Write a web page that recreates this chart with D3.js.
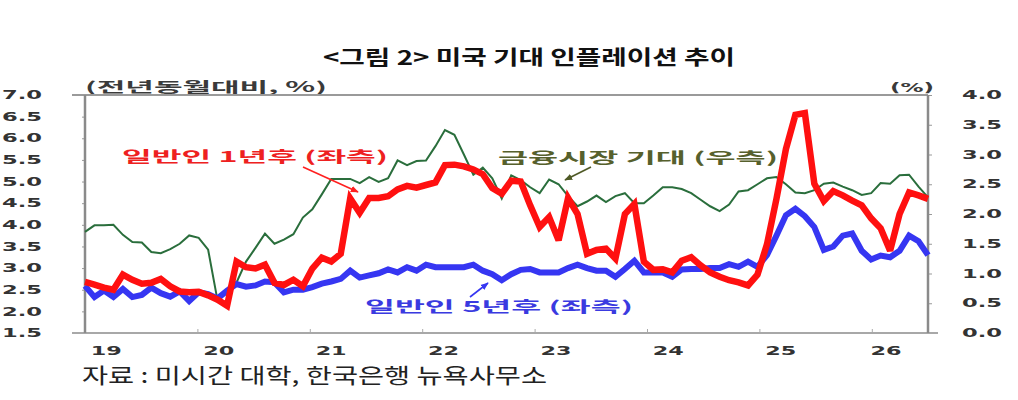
<!DOCTYPE html>
<html><head><meta charset="utf-8">
<script src="https://cdn.jsdelivr.net/npm/d3@7/dist/d3.min.js"></script>
<style>
html,body{margin:0;padding:0;background:#fff;}
svg{display:block;}
</style></head>
<body>
<svg id="chart" width="1018" height="400"></svg>
<script>
// ---- data (monthly, 2019.01 ~ 2026.06) ----
const years = [2019, 2020, 2021, 2022, 2023, 2024, 2025, 2026];
const yearLabels = ["19", "20", "21", "22", "23", "24", "25", "26"];
const leftTicks = [1.5, 2.0, 2.5, 3.0, 3.5, 4.0, 4.5, 5.0, 5.5, 6.0, 6.5, 7.0];
const rightTicks = [0.0, 0.5, 1.0, 1.5, 2.0, 2.5, 3.0, 3.5, 4.0];

// 일반인 1년후 (좌측)
const oneYear = [2.68,2.62,2.55,2.50,2.85,2.73,2.64,2.66,2.75,2.58,2.46,2.44,
 2.45,2.37,2.27,2.13,3.15,3.02,2.99,3.08,2.66,2.61,2.73,2.58,
 2.99,3.24,3.15,3.33,4.61,4.28,4.62,4.62,4.66,4.82,4.90,4.86,
 4.92,4.98,5.38,5.39,5.35,5.28,5.17,4.85,4.72,5.02,5.00,4.45,
 3.95,4.18,3.64,4.62,4.25,3.33,3.42,3.45,3.22,4.25,4.48,3.15,
 2.96,2.97,2.90,3.17,3.25,3.06,2.90,2.80,2.72,2.67,2.60,2.85,
 3.55,4.60,5.75,6.54,6.58,4.95,4.55,4.78,4.68,4.56,4.45,4.15,
 3.92,3.40,4.25,4.75,4.68,4.60];

// 일반인 5년후 (좌측)
const fiveYear = [2.59,2.33,2.48,2.33,2.52,2.33,2.38,2.55,2.42,2.34,2.46,2.24,
 2.44,2.40,2.30,2.48,2.63,2.57,2.60,2.69,2.67,2.44,2.50,2.50,
 2.56,2.64,2.69,2.75,2.94,2.78,2.83,2.88,2.97,2.90,3.02,2.94,
 3.08,3.02,3.02,3.02,3.02,3.08,2.94,2.86,2.72,2.86,2.96,2.98,
 2.90,2.90,2.90,3.00,3.08,3.00,2.94,2.94,2.80,2.98,3.17,2.90,
 2.90,2.90,2.80,2.97,2.98,2.98,3.00,3.00,3.09,3.03,3.15,3.03,
 3.30,3.75,4.22,4.37,4.20,3.95,3.42,3.50,3.75,3.80,3.40,3.20,
 3.29,3.25,3.40,3.75,3.62,3.30];

// 금융시장 기대 (우측)
const market = [1.70,1.81,1.81,1.82,1.65,1.53,1.52,1.36,1.34,1.41,1.50,1.64,
 1.60,1.40,0.54,0.68,0.85,1.20,1.43,1.67,1.50,1.57,1.66,1.94,
 2.08,2.33,2.59,2.59,2.59,2.52,2.62,2.54,2.60,2.90,2.82,2.89,
 2.90,3.14,3.41,3.33,3.00,2.66,2.78,2.60,2.26,2.65,2.57,2.45,
 2.35,2.58,2.50,2.30,2.13,2.21,2.31,2.20,2.30,2.35,2.18,2.18,
 2.31,2.45,2.45,2.42,2.35,2.24,2.13,2.05,2.16,2.38,2.40,2.50,
 2.60,2.62,2.50,2.36,2.35,2.40,2.51,2.53,2.46,2.40,2.32,2.35,
 2.52,2.51,2.65,2.66,2.46,2.28];

// ---- layout ----
const L = 85, R = 928, T = 95, B = 333;
const svg = d3.select("#chart");
const numFont = "'DejaVu Sans', sans-serif";
const krFont = "'Noto Sans CJK KR', sans-serif";

const x = d3.scaleLinear().domain([0, oneYear.length - 1]).range([L, R]);
const yearX = d3.scaleLinear().domain([2019, 2026.5]).range([L, R]);
const yL = d3.scaleLinear().domain([1.5, 7.0]).range([B, T]);
const yR = d3.scaleLinear().domain([0, 4]).range([B, T]);

// title
svg.append("text").attr("x", 323).attr("y", 65)
  .attr("font-family", krFont).attr("font-weight", 700).attr("font-size", 20)
  .attr("textLength", 412).attr("lengthAdjust", "spacingAndGlyphs")
  .attr("fill", "#111").text("<그림 2> 미국 기대 인플레이션 추이");

// unit labels
svg.append("text").attr("x", 85).attr("y", 92)
  .attr("font-family", krFont).attr("font-weight", 700).attr("font-size", 14)
  .attr("textLength", 242).attr("lengthAdjust", "spacingAndGlyphs")
  .attr("fill", "#3a3a3a").text("(전년동월대비, %)");
svg.append("text").attr("x", 890).attr("y", 92)
  .attr("font-family", numFont).attr("font-weight", 700).attr("font-size", 13)
  .attr("textLength", 44).attr("lengthAdjust", "spacingAndGlyphs")
  .attr("fill", "#3a3a3a").text("(%)");

// left axis
const gL = svg.append("g").attr("transform", `translate(${L},0)`)
  .call(d3.axisLeft(yL).tickValues(leftTicks).tickSize(3).tickFormat(d3.format(".1f")));
gL.select(".domain").remove();
gL.selectAll(".tick line").attr("stroke", "#999");
gL.selectAll(".tick text").attr("x", 2 - L).attr("text-anchor", "start")
  .attr("font-family", numFont).attr("font-weight", 700).attr("font-size", 11.5)
  .attr("fill", "#333").attr("textLength", 40).attr("lengthAdjust", "spacingAndGlyphs");

// right axis
const gR = svg.append("g").attr("transform", `translate(${R},0)`)
  .call(d3.axisRight(yR).tickValues(rightTicks).tickSize(4).tickFormat(d3.format(".1f")));
gR.select(".domain").remove();
gR.selectAll(".tick line").attr("stroke", "#999");
gR.selectAll(".tick text").attr("x", 34).attr("text-anchor", "start")
  .attr("font-family", numFont).attr("font-weight", 700).attr("font-size", 11.5)
  .attr("fill", "#333").attr("textLength", 40).attr("lengthAdjust", "spacingAndGlyphs");

// x axis ticks (year boundaries)
const gX = svg.append("g").attr("transform", `translate(0,${B})`)
  .call(d3.axisBottom(yearX).tickValues(years.slice(1)).tickSize(-4).tickFormat(""));
gX.select(".domain").remove();
gX.selectAll(".tick line").attr("stroke", "#aaa");

// x labels
svg.append("g").selectAll("text").data(years).join("text")
  .attr("x", d => Math.min(yearX(d + 0.19), R - 42))
  .attr("y", 355).attr("text-anchor", "middle")
  .attr("font-family", numFont).attr("font-weight", 700).attr("font-size", 12)
  .attr("fill", "#333").attr("textLength", 31).attr("lengthAdjust", "spacingAndGlyphs")
  .text((d, i) => yearLabels[i]);

// frame
const frame = svg.append("g").attr("fill", "none");
frame.append("line").attr("x1", 72).attr("x2", R).attr("y1", T).attr("y2", T).attr("stroke", "#9a9a9a").attr("stroke-width", 2);
frame.append("line").attr("x1", 72).attr("x2", 938).attr("y1", B).attr("y2", B).attr("stroke", "#a8a8a8").attr("stroke-width", 2);
frame.append("line").attr("x1", L).attr("x2", L).attr("y1", T).attr("y2", B).attr("stroke", "#8a8a8a").attr("stroke-width", 2.5);
frame.append("line").attr("x1", R).attr("x2", R).attr("y1", T).attr("y2", B).attr("stroke", "#8a8a8a").attr("stroke-width", 2.5);

// lines (green under, red on top)
const lineL = d3.line().x((d, i) => x(i)).y(d => yL(d));
const lineR = d3.line().x((d, i) => x(i)).y(d => yR(d));
svg.append("path").datum(market).attr("d", lineR).attr("fill", "none")
  .attr("stroke", "#2a6e3c").attr("stroke-width", 2).attr("stroke-linejoin", "miter");
svg.append("path").datum(fiveYear).attr("d", lineL).attr("fill", "none")
  .attr("stroke", "#3636f2").attr("stroke-width", 6).attr("stroke-linejoin", "miter").attr("stroke-miterlimit", 3);
svg.append("path").datum(oneYear).attr("d", lineL).attr("fill", "none")
  .attr("stroke", "#ff1010").attr("stroke-width", 6.5).attr("stroke-linejoin", "miter").attr("stroke-miterlimit", 3);

// annotations
const defs = svg.append("defs");
function marker(id, color) {
  defs.append("marker").attr("id", id).attr("viewBox", "0 0 10 10")
    .attr("refX", 9).attr("refY", 5).attr("markerWidth", 5).attr("markerHeight", 5)
    .attr("orient", "auto")
    .append("path").attr("d", "M0,1 L10,5 L0,9 Z").attr("fill", color);
}
marker("arR", "#ff2020"); marker("arG", "#4f5a26"); marker("arB", "#3636f2");

svg.append("text").attr("x", 122).attr("y", 162)
  .attr("font-family", krFont).attr("font-weight", 700).attr("font-size", 15)
  .attr("textLength", 266).attr("lengthAdjust", "spacingAndGlyphs")
  .attr("fill", "#ee2020").text("일반인 1년후 (좌측)");
svg.append("line").attr("x1", 303).attr("y1", 167).attr("x2", 358).attr("y2", 192)
  .attr("stroke", "#ff2020").attr("stroke-width", 1.6).attr("marker-end", "url(#arR)");

svg.append("text").attr("x", 498).attr("y", 163)
  .attr("font-family", krFont).attr("font-weight", 700).attr("font-size", 15)
  .attr("textLength", 280).attr("lengthAdjust", "spacingAndGlyphs")
  .attr("fill", "#56602c").text("금융시장 기대 (우측)");
svg.append("line").attr("x1", 591).attr("y1", 167).attr("x2", 565).attr("y2", 180)
  .attr("stroke", "#4f5a26").attr("stroke-width", 1.6).attr("marker-end", "url(#arG)");

svg.append("text").attr("x", 365).attr("y", 312)
  .attr("font-family", krFont).attr("font-weight", 700).attr("font-size", 15)
  .attr("textLength", 268).attr("lengthAdjust", "spacingAndGlyphs")
  .attr("fill", "#3a3ae0").text("일반인 5년후 (좌측)");
svg.append("line").attr("x1", 470).attr("y1", 297).attr("x2", 488).attr("y2", 283)
  .attr("stroke", "#3636f2").attr("stroke-width", 1.6).attr("marker-end", "url(#arB)");

// source
svg.append("text").attr("x", 82).attr("y", 383)
  .attr("font-family", krFont).attr("font-size", 21)
  .attr("textLength", 465).attr("lengthAdjust", "spacingAndGlyphs")
  .attr("fill", "#222").text("자료 : 미시간 대학, 한국은행 뉴욕사무소");
</script>
</body></html>
